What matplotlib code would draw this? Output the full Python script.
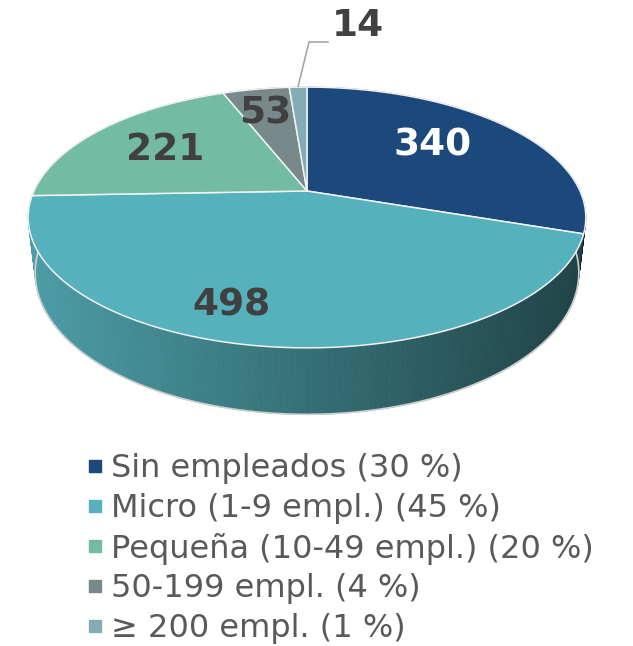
import numpy as np
import matplotlib
matplotlib.use("Agg")
import matplotlib.pyplot as plt
from matplotlib.collections import PolyCollection
from matplotlib.lines import Line2D
from matplotlib.colors import to_rgb

# data
categories = ["Sin empleados (30 %)", "Micro (1-9 empl.) (45 %)",
              "Pequeña (10-49 empl.) (20 %)", "50-199 empl. (4 %)",
              "≥ 200 empl. (1 %)"]
values = [340, 498, 221, 53, 14]
colors = ["#1c497c", "#55b1bc", "#73bba3", "#778a89", "#83acb7"]
label_colors = ["white", "#404040", "#404040", "#404040", "#404040"]

# pie geometry (pixels), simple perspective
cx, cy = 307, 191
a, b = 273, 125
k = 0.203
depth = 53
bottom_scale = 0.975


def project(phi, r=1.0, down=0.0, s=1.0):
    u = r * np.sin(phi)
    v = -r * np.cos(phi)
    w = 1 - k * v
    return cx + s * a * u / w, cy + b * v / w + down / w


fig = plt.figure(figsize=(6.33, 6.46), dpi=100)
ax = fig.add_axes([0, 0, 1, 1])
ax.set_xlim(0, 633)
ax.set_ylim(646, 0)
ax.axis("off")

total = float(sum(values))
bounds = np.concatenate([[0], np.cumsum(values) / total * 2 * np.pi])

# side walls, shaded from left (light) to right (dark)
polys, fcs = [], []
for i in range(len(values)):
    n = max(int((bounds[i + 1] - bounds[i]) / (2 * np.pi) * 400), 2)
    phis = np.linspace(bounds[i], bounds[i + 1], n + 1)
    base = np.array(to_rgb(colors[i]))
    for p0, p1 in zip(phis[:-1], phis[1:]):
        x0, y0 = project(p0)
        x1, y1 = project(p1)
        xb0, yb0 = project(p0, down=depth, s=bottom_scale)
        xb1, yb1 = project(p1, down=depth, s=bottom_scale)
        t = ((x0 + x1) / 2 - (cx - a)) / (2 * a)
        f = 0.88 - 0.5 * np.clip(t, 0, 1)
        polys.append([(x0, y0), (x1, y1), (xb1, yb1), (xb0, yb0)])
        fcs.append(tuple(base * f))
ax.add_collection(PolyCollection(polys, facecolors=fcs, edgecolors=fcs,
                                 linewidths=0.6, zorder=1))

# outline along the bottom front edge
full = np.linspace(0, 2 * np.pi, 721)
bx, by = project(full, down=depth, s=bottom_scale)
front = np.r_[120:600]
ax.plot(bx[front], by[front], color="#d0d0d0", lw=1.2, zorder=2)

# top faces
for i in range(len(values)):
    phis = np.linspace(bounds[i], bounds[i + 1], 200)
    xs, ys = project(phis)
    ax.fill(np.r_[cx, xs], np.r_[cy, ys], facecolor=colors[i],
            edgecolor="#f2f2f2", lw=1.1, zorder=3, joinstyle="round")

# value labels
label_pos = [(432, 146), (232, 305), (165, 150), (265, 113), (358, 26)]
for i, v in enumerate(values):
    ax.text(label_pos[i][0], label_pos[i][1], str(v), color=label_colors[i],
            fontsize=27, fontweight="bold", ha="center", va="center", zorder=5)

# leader line for the smallest slice
mid = (bounds[-2] + bounds[-1]) / 2
lx, ly = project(mid)
ax.plot([lx, 309, 328], [ly - 1, 42, 42], color="#a6a6a6", lw=1.2, zorder=4)

# legend
handles = [Line2D([], [], marker="s", ls="none", markersize=8,
                  markerfacecolor=c, markeredgecolor=c) for c in colors]
ax.legend(handles, categories, loc="upper left", bbox_to_anchor=(0.12, 0.318),
          frameon=False, fontsize=23, labelcolor="#595959", handlelength=0.4,
          handletextpad=0.3, labelspacing=0.27, borderaxespad=0)

fig.savefig("out.png", dpi=100)
